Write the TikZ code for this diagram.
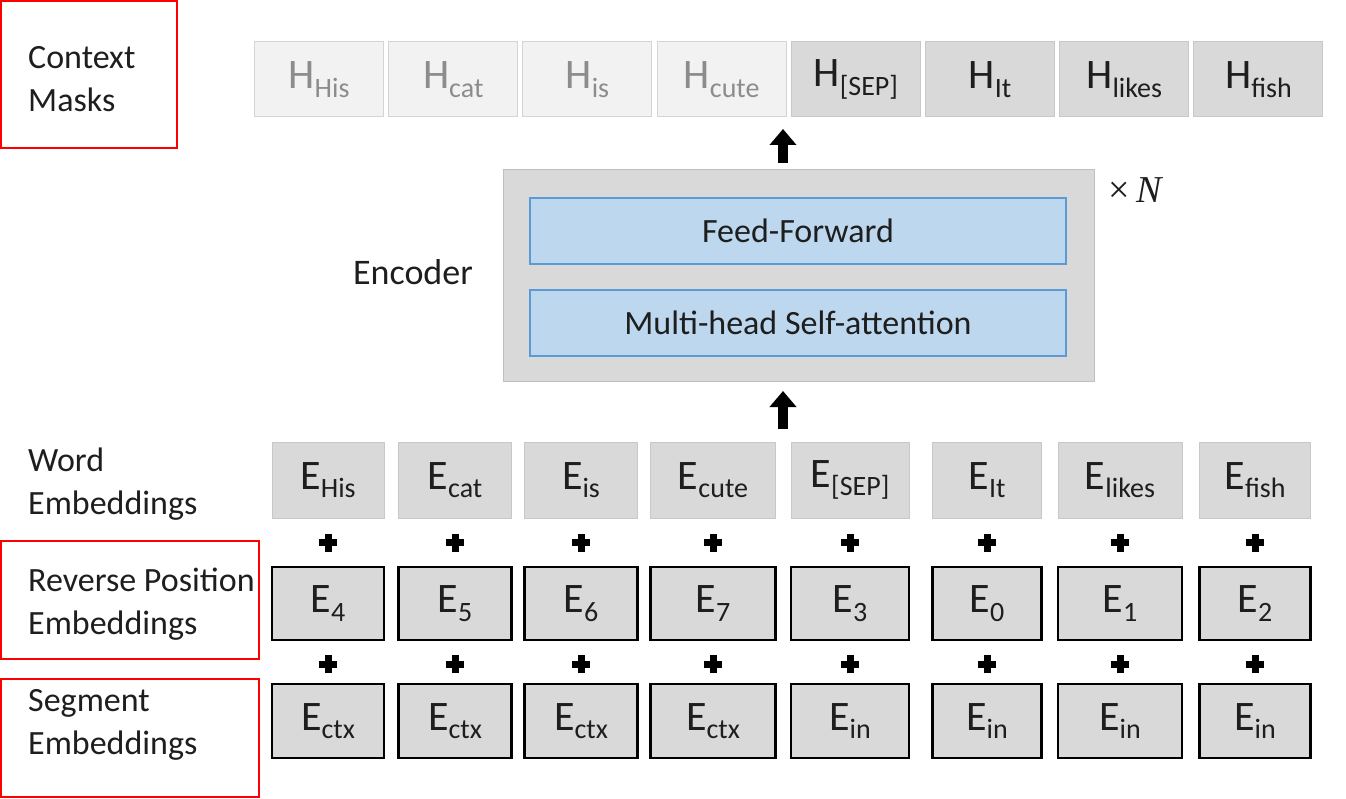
\documentclass[tikz,border=0pt]{standalone}
\usepackage{fontspec}
\setmainfont{Carlito}
\newfontfamily\serifmath{Liberation Serif}
\usetikzlibrary{arrows.meta}
\definecolor{boxgray}{HTML}{D9D9D9}
\definecolor{lightfill}{HTML}{F2F2F2}
\definecolor{lighttxt}{HTML}{8C8C8C}
\definecolor{lightbord}{HTML}{D4D4D4}
\definecolor{hbord}{HTML}{C8C8C8}
\definecolor{txt}{HTML}{1E1E1E}
\definecolor{blfill}{HTML}{BDD7EE}
\definecolor{blbord}{HTML}{5B9BD5}
\definecolor{encbord}{HTML}{BFBFBF}
\newcommand\sbs[1]{\raisebox{-0.2em}{\fontsize{28}{30}\selectfont #1}}
\tikzset{
  hbox/.style={draw=hbord, line width=1pt, fill=boxgray, minimum width=129pt, minimum height=75pt, inner sep=0pt, font=\fontsize{42}{48}\selectfont, text=txt},
  hlight/.style={hbox, fill=lightfill, text=lighttxt, draw=lightbord},
  wbox/.style={draw=hbord, line width=1pt, fill=boxgray, minimum height=76pt, inner sep=0pt, font=\fontsize{42}{48}\selectfont, text=txt},
  pbox/.style={draw=black, line width=2.8pt, fill=boxgray, inner sep=0pt, font=\fontsize{42}{48}\selectfont, text=txt},
  lab/.style={anchor=west, align=left, inner sep=0pt, font=\fontsize{34}{43}\selectfont, text=txt},
  redbox/.style={draw=red, line width=2pt},
  blockarrow/.style={line width=10pt, -{Triangle[length=16pt,width=26pt]}},
  plusmark/.style={line width=7pt},
  encbox/.style={draw=encbord, line width=1pt, fill=boxgray, minimum width=591pt, minimum height=211pt, inner sep=0pt},
  layerbox/.style={draw=blbord, line width=2pt, fill=blfill, minimum width=536pt, minimum height=66pt, inner sep=0pt, font=\fontsize{34}{40}\selectfont, text=txt},
}
\begin{document}
\begin{tikzpicture}[x=1pt,y=-1pt]
\useasboundingbox (0,0) rectangle (1346,799);
% left labels
\draw[redbox] (1,1) rectangle (177,148);
\node[lab] (lctx) at (28,79) {Context\\Masks};
\node[lab] (lword) at (28,484) {Word\\Embeddings};
\draw[redbox] (1,541) rectangle (259,659);
\node[lab] (lpos) at (28,604) {Reverse Position\\Embeddings};
\draw[redbox] (1,679) rectangle (259,797);
\node[lab] (lseg) at (28,725) {Segment\\Embeddings};
% top H row
\foreach \i/\t in {1/His,2/cat,3/is,4/cute}
  \node[hlight] (h\i) at ({319+134.2*(\i-1)},79.5) {H\sbs{\t}};
\foreach \i/\t in {5/{[SEP]},6/It,7/likes,8/fish}
  \node[hbox] (h\i) at ({319+134.2*(\i-1)},79.5) {H\sbs{\t}};
% encoder
\node[encbox] (enc) at (798.5,275.5) {};
\node[layerbox] (ff) at (798,231) {Feed-Forward};
\node[layerbox] (mh) at (798,323) {Multi-head Self-attention};
\node[font=\fontsize{36}{40}\selectfont, text=txt, inner sep=0pt] (encl) at (413,272) {Encoder};
\node[font=\serifmath\fontsize{38}{42}\selectfont, text=txt, inner sep=0pt] (xn) at (1136,190) {×\,\textit{N}};
% arrows
\coordinate (ta1) at (783,163);
\coordinate (ta2) at (783,129);
\coordinate (ba1) at (783,429);
\coordinate (ba2) at (783,391);
\draw[blockarrow] (ta1) -- (ta2);
\draw[blockarrow] (ba1) -- (ba2);
% embedding columns
\foreach \i/\x/\w/\word/\pp/\sg in {1/328/112/His/4/ctx, 2/455/113/cat/5/ctx, 3/581/113/is/6/ctx, 4/713/125/cute/7/ctx, 5/850/118/{[SEP]}/3/in, 6/987/109/It/0/in, 7/1120/124/likes/1/in, 8/1255/111/fish/2/in}
{
  \node[wbox, minimum width=\w pt] (w\i) at (\x,480) {E\sbs{\word}};
  \node[pbox, minimum width=\w pt, minimum height=73pt] (p\i) at (\x,603.5) {E\sbs{\pp}};
  \node[pbox, minimum width=\w pt, minimum height=74pt] (s\i) at (\x,721) {E\sbs{\sg}};
  \coordinate (pa\i) at ([yshift=-24pt]w\i.south);
  \coordinate (pb\i) at ([yshift=-23pt]p\i.south);
  \draw[plusmark] ([xshift=-9pt]pa\i) -- ([xshift=9pt]pa\i) ([yshift=-9pt]pa\i) -- ([yshift=9pt]pa\i);
  \draw[plusmark] ([xshift=-9pt]pb\i) -- ([xshift=9pt]pb\i) ([yshift=-9pt]pb\i) -- ([yshift=9pt]pb\i);
}
\end{tikzpicture}
\end{document}
